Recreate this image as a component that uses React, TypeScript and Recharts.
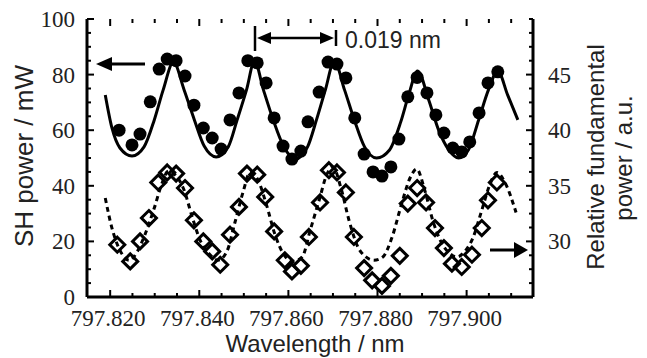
import React from 'react';
import { ComposedChart, Line, Scatter, XAxis, YAxis } from 'recharts';

// plot frame, in px
const PLOT_L = 87;
const PLOT_R = 533;
const PLOT_T = 19;
const PLOT_B = 297;

const serif = "'Liberation Serif', 'Times New Roman', Times, serif";
const sans = "'Liberation Sans', Arial, Helvetica, sans-serif";

// SH power (filled circles), left axis, mW
const shWavelength = [
  797.822, 797.8249, 797.8267, 797.829, 797.831, 797.8328, 797.8348, 797.8368, 797.8388, 797.8409,
  797.8429, 797.8449, 797.8469, 797.8489, 797.8509, 797.853, 797.855, 797.8568, 797.8588, 797.8608,
  797.8628, 797.8644, 797.8669, 797.8689, 797.8709, 797.8729, 797.8749, 797.877, 797.879, 797.881,
  797.883, 797.8848, 797.8868, 797.8889, 797.8911, 797.8931, 797.8949, 797.8969, 797.8989, 797.9007,
  797.9028, 797.9048, 797.907,
];
const shPower = [
  60, 54.7, 58.6, 70.2, 82, 85.6, 85, 79.5, 69, 60.8,
  57.2, 53.2, 63.7, 73.4, 85, 84.2, 77, 64.4, 54.3, 49.6,
  52.5, 63, 73.7, 84.5, 83.8, 78.8, 64.4, 51.4, 45, 43.5,
  46.8, 56.8, 72, 79, 73.4, 65.5, 59, 53.6, 52.2, 55.8,
  66.2, 77, 81,
];

// solid curve through the SH data
const shFitWavelength = [
  797.8189, 797.8204, 797.8222, 797.8249, 797.8276, 797.8299, 797.8319, 797.8342, 797.8366, 797.8389,
  797.8411, 797.8438, 797.8465, 797.8485, 797.8506, 797.8524, 797.8544, 797.8566, 797.8589, 797.8616,
  797.8643, 797.8663, 797.8683, 797.8703, 797.8726, 797.8748, 797.8771, 797.8798, 797.8827, 797.8852,
  797.887, 797.889, 797.8915, 797.8937, 797.896, 797.8982, 797.9004, 797.9027, 797.9049, 797.907,
  797.9092, 797.9115,
];
const shFitPower = [
  72.7, 60.8, 53.6, 50.7, 54, 63.7, 74.5, 84.5, 74.5, 63.7,
  54.3, 50.4, 54, 63.7, 74.5, 84.9, 74.5, 63.7, 54.3, 49.6,
  54, 63.7, 74.5, 84.9, 74.5, 63.7, 54, 50, 52.9, 62.9,
  72.7, 81.3, 70.9, 60.1, 52.9, 50, 52.9, 63.7, 74.5, 81.3,
  72.7, 63.7,
];

// relative fundamental power (open diamonds), right axis, a.u.
const fundWavelength = [
  797.8216, 797.8245, 797.8267, 797.8287, 797.8308, 797.8328, 797.8348, 797.8368, 797.8388, 797.8409,
  797.8429, 797.8447, 797.8469, 797.8489, 797.8507, 797.853, 797.8548, 797.8568, 797.8592, 797.8608,
  797.8628, 797.8646, 797.8671, 797.8691, 797.8709, 797.8729, 797.8747, 797.877, 797.8788, 797.881,
  797.883, 797.885, 797.8868, 797.8889, 797.8909, 797.8929, 797.8949, 797.8967, 797.8989, 797.9012,
  797.9034, 797.9048, 797.9068,
];
const fundPower = [
  29.7, 28.2, 30, 32.1, 35.3, 36.2, 36.1, 34.8, 31.9, 30,
  29.1, 27.9, 30.6, 33.1, 36.1, 36, 34, 30.9, 28.3, 27.3,
  27.8, 30.4, 33.5, 36.4, 36.2, 34.4, 30.4, 27.6, 26.5, 26,
  26.9, 28.7, 33.4, 34.8, 33.5, 31.2, 29.4, 28, 27.7, 28.8,
  31.2, 33.7, 35.3,
];

// dashed curve through the fundamental data
const fundFitWavelength = [
  797.8189, 797.8204, 797.8222, 797.8243, 797.8261, 797.8278, 797.8299, 797.8317, 797.833, 797.8348,
  797.8366, 797.8384, 797.8402, 797.8422, 797.8442, 797.8462, 797.848, 797.8498, 797.8514, 797.8532,
  797.855, 797.857, 797.859, 797.861, 797.8631, 797.8649, 797.8669, 797.8687, 797.87, 797.8718,
  797.8736, 797.8756, 797.8774, 797.8792, 797.8812, 797.8832, 797.8855, 797.8873, 797.8888, 797.8906,
  797.8924, 797.8942, 797.896, 797.8978, 797.8996, 797.9014, 797.9034, 797.9052, 797.9068, 797.9086,
  797.9111,
];
const fundFitPower = [
  33.9, 31.2, 29.2, 28.3, 29.1, 30.6, 33, 35.3, 36.3, 35.9,
  34.6, 32.2, 30.1, 28.9, 28.3, 29.1, 31.7, 34.4, 36.2, 35.5,
  33.4, 30.6, 28.8, 28.2, 28.6, 31, 33.7, 36.1, 36.7, 34.8,
  31.9, 29.5, 28.6, 28.3, 28.6, 30.3, 33.5, 35.7, 36.5, 34.6,
  31.9, 30, 29, 28.6, 29.1, 30.3, 32.8, 35.1, 36.2, 35.3,
  32.6,
];

// axes
const xDomain = [797.8148, 797.9149];
const xTicks = [
  797.82, 797.825, 797.83, 797.835, 797.84, 797.845, 797.85, 797.855, 797.86, 797.865,
  797.87, 797.875, 797.88, 797.885, 797.89, 797.895, 797.9, 797.905, 797.91,
];
const xLabels = [797.82, 797.84, 797.86, 797.88, 797.9];
const leftTicks = [0, 5, 10, 15, 20, 25, 30, 35, 40, 45, 50, 55, 60, 65, 70, 75, 80, 85, 90, 95, 100];
const leftLabels = [0, 20, 40, 60, 80, 100];
const rightTicks = [
  25, 26.25, 27.5, 28.75, 30, 31.25, 32.5, 33.75, 35, 36.25, 37.5, 38.75, 40,
  41.25, 42.5, 43.75, 45, 46.25, 47.5, 48.75, 50,
];
const rightLabels = [30, 35, 40, 45];

const zip = (xs: number[], ys: number[]) => xs.map((x, i) => ({ x, y: ys[i] }));
const shPoints = zip(shWavelength, shPower);
const shFit = zip(shFitWavelength, shFitPower);
const fundPoints = zip(fundWavelength, fundPower);
const fundFit = zip(fundFitWavelength, fundFitPower);

const isIn = (list: number[], v: number) => list.some((t) => Math.abs(t - v) < 1e-6);

const tickText = { fontFamily: serif, fontSize: 23, fill: '#222' };
const titleText = { fontFamily: sans, fill: '#222' };

function renderXTick(props: any) {
  const { x, payload } = props;
  const v = payload.value;
  const major = isIn(xLabels, v);
  const len = major ? 7 : 4;
  return (
    <g>
      <line x1={x} x2={x} y1={PLOT_B} y2={PLOT_B - len} stroke="#000" strokeWidth={2} />
      <line x1={x} x2={x} y1={PLOT_T} y2={PLOT_T + len} stroke="#000" strokeWidth={2} />
      {major && (
        <text x={x - 2} y={326} textAnchor="middle" style={tickText}>
          {v.toFixed(3)}
        </text>
      )}
    </g>
  );
}

function renderLeftTick(props: any) {
  const { y, payload } = props;
  const v = payload.value;
  const major = isIn(leftLabels, v);
  const len = major ? 7 : 4;
  return (
    <g>
      <line x1={PLOT_L} x2={PLOT_L + len} y1={y} y2={y} stroke="#000" strokeWidth={2} />
      {major && (
        <text x={75} y={y + 8} textAnchor="end" style={tickText}>
          {v}
        </text>
      )}
    </g>
  );
}

function renderRightTick(props: any) {
  const { y, payload } = props;
  const v = payload.value;
  const major = isIn(rightLabels, v);
  const len = major ? 7 : 4;
  return (
    <g>
      <line x1={PLOT_R} x2={PLOT_R - len} y1={y} y2={y} stroke="#000" strokeWidth={2} />
      {major && (
        <text x={548} y={y + 8} textAnchor="start" style={tickText}>
          {v}
        </text>
      )}
    </g>
  );
}

const renderCircle = (p: any) => <circle cx={p.cx} cy={p.cy} r={6.5} fill="#000" />;

const renderDiamond = (p: any) => {
  const d = 7.5;
  return (
    <path
      d={`M${p.cx},${p.cy - d} L${p.cx + d},${p.cy} L${p.cx},${p.cy + d} L${p.cx - d},${p.cy} Z`}
      fill="none"
      stroke="#000"
      strokeWidth={3}
    />
  );
};

function Annotations() {
  return (
    <svg width={647} height={358} style={{ position: 'absolute', left: 0, top: 0, pointerEvents: 'none' }}>
      {/* left arrow -> SH axis */}
      <line x1={145} y1={64} x2={108} y2={64} stroke="#000" strokeWidth={3} />
      <polygon points="96,64 112,57 112,71" fill="#000" />
      {/* period marker */}
      <line x1={255} y1={26} x2={255} y2={51} stroke="#000" strokeWidth={2.5} />
      <line x1={336} y1={30} x2={336} y2={46} stroke="#000" strokeWidth={2.5} />
      <line x1={266} y1={38} x2={325} y2={38} stroke="#000" strokeWidth={2.5} />
      <polygon points="257,38 271,32 271,44" fill="#000" />
      <polygon points="334,38 320,32 320,44" fill="#000" />
      <text x={345} y={48} style={{ ...titleText, fontSize: 23 }}>0.019 nm</text>
      {/* right arrow -> fundamental axis */}
      <line x1={490} y1={250} x2={516} y2={250} stroke="#000" strokeWidth={3} />
      <polygon points="528,250 514,242 514,258" fill="#000" />
      {/* axis titles */}
      <text x={315} y={352} textAnchor="middle" style={{ ...titleText, fontSize: 24 }}>
        Wavelength / nm
      </text>
      <text transform="translate(33,156) rotate(-90)" textAnchor="middle" style={{ ...titleText, fontSize: 26 }}>
        SH power / mW
      </text>
      <text transform="translate(604,157) rotate(-90)" textAnchor="middle" style={{ ...titleText, fontSize: 24 }}>
        Relative fundamental
      </text>
      <text transform="translate(632,158) rotate(-90)" textAnchor="middle" style={{ ...titleText, fontSize: 24 }}>
        power / a.u.
      </text>
    </svg>
  );
}

export default function App() {
  return (
    <div style={{ position: 'absolute', left: 0, top: 0, width: 647, height: 358, background: '#fff' }}>
      <ComposedChart width={647} height={358} margin={{ top: PLOT_T, right: 0, bottom: 0, left: 0 }}>
        <XAxis
          type="number"
          dataKey="x"
          domain={xDomain}
          allowDataOverflow
          ticks={xTicks}
          interval={0}
          tick={renderXTick}
          tickLine={false}
          height={61}
          axisLine={{ stroke: '#000', strokeWidth: 3 }}
        />
        <XAxis
          xAxisId="top"
          orientation="top"
          type="number"
          domain={xDomain}
          allowDataOverflow
          height={0}
          tick={false}
          tickLine={false}
          axisLine={{ stroke: '#000', strokeWidth: 3 }}
        />
        <YAxis
          yAxisId="left"
          type="number"
          domain={[0, 100]}
          allowDataOverflow
          ticks={leftTicks}
          interval={0}
          tick={renderLeftTick}
          tickLine={false}
          width={87}
          axisLine={{ stroke: '#000', strokeWidth: 3 }}
        />
        <YAxis
          yAxisId="right"
          orientation="right"
          type="number"
          domain={[25, 50]}
          allowDataOverflow
          ticks={rightTicks}
          interval={0}
          tick={renderRightTick}
          tickLine={false}
          width={114}
          axisLine={{ stroke: '#000', strokeWidth: 3 }}
        />
        <Line
          data={shFit}
          dataKey="y"
          yAxisId="left"
          type="monotone"
          stroke="#000"
          strokeWidth={3}
          dot={false}
          activeDot={false}
          isAnimationActive={false}
        />
        <Line
          data={fundFit}
          dataKey="y"
          yAxisId="right"
          type="monotone"
          stroke="#000"
          strokeWidth={3}
          strokeDasharray="5 4"
          dot={false}
          activeDot={false}
          isAnimationActive={false}
        />
        <Scatter data={shPoints} dataKey="y" yAxisId="left" shape={renderCircle} isAnimationActive={false} />
        <Scatter data={fundPoints} dataKey="y" yAxisId="right" shape={renderDiamond} isAnimationActive={false} />
      </ComposedChart>
      <Annotations />
    </div>
  );
}
